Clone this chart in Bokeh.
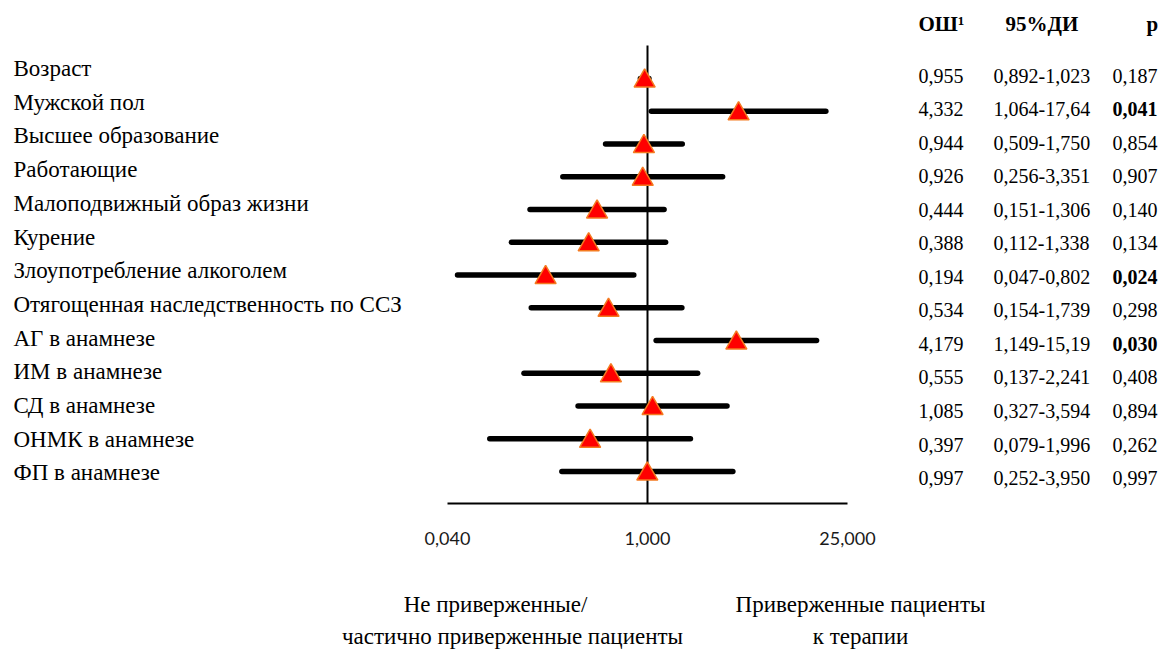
import math
from bokeh.plotting import figure
from bokeh.models import Range1d, ColumnDataSource
from bokeh.core.properties import value
from bokeh.embed import file_html
from bokeh.resources import INLINE

# ---------------- data ----------------
factors = ["Возраст", "Мужской пол", "Высшее образование", "Работающие",
           "Малоподвижный образ жизни", "Курение", "Злоупотребление алкоголем",
           "Отягощенная наследственность по ССЗ", "АГ в анамнезе", "ИМ в анамнезе",
           "СД в анамнезе", "ОНМК в анамнезе", "ФП в анамнезе"]
odds_ratio = [0.955, 4.332, 0.944, 0.926, 0.444, 0.388, 0.194, 0.534, 4.179, 0.555, 1.085, 0.397, 0.997]
ci_low = [0.892, 1.064, 0.509, 0.256, 0.151, 0.112, 0.047, 0.154, 1.149, 0.137, 0.327, 0.079, 0.252]
ci_high = [1.023, 17.64, 1.750, 3.351, 1.306, 1.338, 0.802, 1.739, 15.19, 2.241, 3.594, 1.996, 3.950]
p_values = [0.187, 0.041, 0.854, 0.907, 0.140, 0.134, 0.024, 0.298, 0.030, 0.408, 0.894, 0.262, 0.997]
x_ticks = [0.04, 1.0, 25.0]
x_tick_labels = ["0,040", "1,000", "25,000"]
headers = ["ОШ¹", "95%ДИ", "p"]
caption_left = ["Не приверженные/", "частично приверженные пациенты"]
caption_right = ["Приверженные пациенты", "к терапии"]

# ---------------- layout (page pixels) ----------------
W, H = 1165, 651
OFF = 0
AX_L, AX_R = 447, 847          # page x of 0.04 and 25
PPD = (AX_R - AX_L) / (math.log10(x_ticks[-1]) - math.log10(x_ticks[0]))


def px_to_x(px):
    return 10 ** (math.log10(x_ticks[0]) + (px - AX_L) / PPD)


n = len(factors)
bar_y = [78 + 32.75 * i for i in range(n)]
label_y = [68 + 33.7 * i for i in range(n)]
val_y = [75 + 33.55 * i for i in range(n)]
AXIS_Y = 503


def fmt(v, d=3):
    return f"{v:.{d}f}".replace(".", ",")


def fmt_ci(v):
    return fmt(v, 2) if v >= 10 else fmt(v, 3)


p = figure(width=W, height=H, x_axis_type="log",
           x_range=Range1d(px_to_x(OFF), px_to_x(OFF + W)),
           y_range=Range1d(OFF + H, OFF),
           x_axis_location=None, y_axis_location=None,
           toolbar_location=None, output_backend="svg",
           min_border=0, outline_line_color=None,
           background_fill_color="white", border_fill_color="white")
p.xgrid.visible = False
p.ygrid.visible = False
for g in p.grid:
    g.visible = False

src = ColumnDataSource(dict(
    factor=factors, orr=odds_ratio, lo=ci_low, hi=ci_high,
    by=bar_y, ty=[y + 2.5 for y in bar_y], ly=label_y, vy=val_y,
    or_txt=[fmt(v) for v in odds_ratio],
    ci_txt=[fmt_ci(a) + "-" + fmt_ci(b) for a, b in zip(ci_low, ci_high)],
    p_txt=[fmt(v) for v in p_values],
    p_style=["bold" if v < 0.05 else "normal" for v in p_values],
))

# reference line at OR = 1 and axis line
p.segment(x0=[1.0], x1=[1.0], y0=[45], y1=[AXIS_Y], line_color="black", line_width=2)
p.segment(x0=[x_ticks[0]], x1=[x_ticks[-1]], y0=[AXIS_Y], y1=[AXIS_Y],
          line_color="black", line_width=2)

# CI bars
p.segment(x0="lo", x1="hi", y0="by", y1="by", source=src,
          line_color="black", line_width=5.5, line_cap="round")
# OR markers
p.scatter(x="orr", y="ty", source=src, marker="triangle", size=21,
          fill_color="#ff0000", line_color="#f47a20", line_width=1.5)

serif = value("Liberation Serif")

# factor labels
p.text(x=px_to_x(13), y="ly", text="factor", source=src, text_font=serif,
       text_font_size="23px", text_align="left", text_baseline="middle",
       text_color="black")

# table
p.text(x=px_to_x(918), y="vy", text="or_txt", source=src, text_font=serif,
       text_font_size="20px", text_align="left", text_baseline="middle", text_color="black")
p.text(x=px_to_x(993), y="vy", text="ci_txt", source=src, text_font=serif,
       text_font_size="20px", text_align="left", text_baseline="middle", text_color="black")
p.text(x=px_to_x(1112), y="vy", text="p_txt", source=src, text_font=serif,
       text_font_size="20px", text_align="left", text_baseline="middle",
       text_font_style="p_style", text_color="black")

# headers
p.text(x=[px_to_x(918), px_to_x(1005), px_to_x(1146)], y=[23, 23, 23], text=headers,
       text_font=serif, text_font_size="21px", text_font_style="bold",
       text_align="left", text_baseline="middle", text_color="black")

# tick labels
p.text(x=x_ticks, y=[538] * len(x_ticks), text=x_tick_labels, text_font=value("Lato"),
       text_font_size="18px", text_align="center", text_baseline="middle",
       text_color="#1a1a1a")

# captions
p.text(x=[px_to_x(495), px_to_x(512)], y=[604, 636], text=caption_left, text_font=serif,
       text_font_size="23px", text_align="center", text_baseline="middle", text_color="black")
p.text(x=[px_to_x(860), px_to_x(860)], y=[604, 636], text=caption_right, text_font=serif,
       text_font_size="23px", text_align="center", text_baseline="middle", text_color="black")

open("out.html", "w").write(file_html(p, INLINE))
